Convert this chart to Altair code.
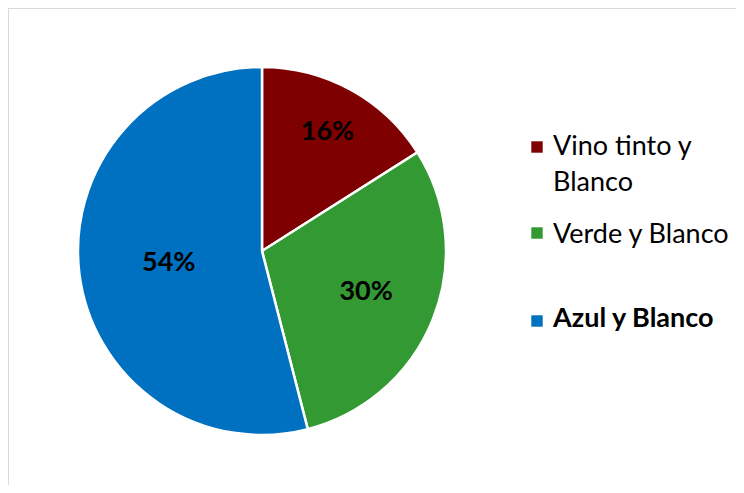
import altair as alt
import pandas as pd

categories = ["Vino tinto y Blanco", "Verde y Blanco", "Azul y Blanco"]
values = [16, 30, 54]
labels = ["16%", "30%", "54%"]
colors = ["#7F0000", "#339933", "#0070C0"]
legend_lines = [["Vino tinto y", "Blanco"], ["Verde y Blanco"], ["Azul y Blanco"]]

FONT = "Lato"

df = pd.DataFrame({
    "idx": list(range(len(categories))),
    "cat": categories,
    "val": values,
    "label": labels,
})

cx, cy, R = 254, 243, 184

color_scale = alt.Scale(domain=categories, range=colors)

base = alt.Chart(df)

pie = base.mark_arc(radius=R, stroke="white", strokeWidth=2.5).encode(
    theta=alt.Theta("val:Q", stack=True),
    order=alt.Order("idx:Q"),
    color=alt.Color("cat:N", scale=color_scale, legend=None),
    x=alt.value(cx), y=alt.value(cy),
)

text = base.transform_window(
    cum="sum(val)", sort=[alt.SortField("idx")]
).transform_joinaggregate(
    total="sum(val)"
).transform_calculate(
    mid="(datum.cum - datum.val / 2) / datum.total * 2 * PI",
    lr="datum.idx == 0 ? 136 : (datum.idx == 1 ? 112 : 94)",
).mark_text(fontSize=27, fontWeight="bold", font=FONT, color="black", baseline="middle").encode(
    theta=alt.Theta("mid:Q", scale=None),
    radius=alt.Radius("lr:Q", scale=None),
    text="label:N",
    x=alt.value(cx), y=alt.value(cy),
)

# Legend drawn manually
sq_y = [139, 225, 313]
txt_y = [147, 235, 319]
layers = [pie, text]
for i, cat in enumerate(categories):
    sq = alt.Chart(pd.DataFrame({"c": [cat]})).mark_square(size=130, opacity=1).encode(
        color=alt.Color("c:N", scale=color_scale, legend=None),
        x=alt.value(529), y=alt.value(sq_y[i]),
    )
    t = alt.Chart(pd.DataFrame({"t": [legend_lines[i]]})).mark_text(
        align="left", baseline="alphabetic", fontSize=27, font=FONT,
        fontWeight="bold" if i == 2 else "normal", color="black", lineHeight=36,
    ).encode(text="t", x=alt.value(545), y=alt.value(txt_y[i]))
    layers += [sq, t]

frame_top = alt.Chart(df).mark_rule(color="#D9D9D9", strokeWidth=2).encode(
    x=alt.value(0), x2=alt.value(728), y=alt.value(0)
)
frame_left = alt.Chart(df).mark_rule(color="#D9D9D9", strokeWidth=2).encode(
    x=alt.value(0), y=alt.value(0), y2=alt.value(477)
)

chart = alt.layer(frame_top, frame_left, *layers).properties(
    width=728, height=477, padding=0, autosize=alt.AutoSizeParams(type="none")
).configure_view(strokeWidth=0)

chart.save("out.html", embed_options={"renderer": "svg", "actions": False})
